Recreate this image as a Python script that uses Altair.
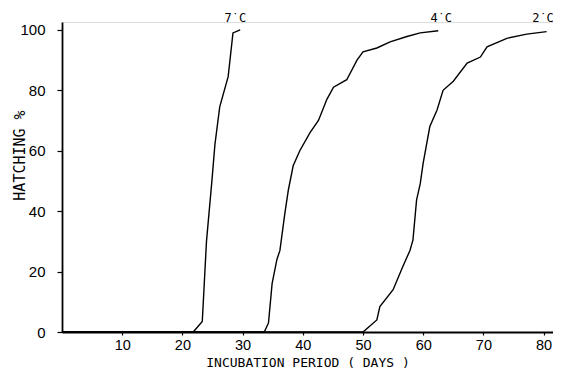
import altair as alt
import pandas as pd

# Series data
days_7 = [0, 21.8, 23.3, 24.0, 24.9, 25.4, 26.2, 27.6, 28.4, 29.6]
hatch_7 = [0, 0, 3.5, 30, 50, 62, 74.5, 84.5, 99, 100]

days_4 = [0, 33.6, 34.3, 34.9, 35.7, 36.2, 37.0, 37.6, 38.4, 39.5, 41.2, 42.6,
          44.0, 45.1, 47.3, 49.0, 50.0, 52.3, 54.5, 57.3, 59.5, 62.5]
hatch_4 = [0, 0, 3, 16, 24, 27, 39, 47, 55, 60, 66, 70,
           77, 81, 83.5, 90, 92.7, 94, 96, 97.8, 99, 99.7]

days_2 = [0, 50.0, 52.3, 52.8, 55.0, 56.6, 57.8, 58.3, 58.9, 59.5, 60.0, 61.1,
          62.3, 63.3, 65.0, 67.3, 69.5, 70.6, 73.9, 77.2, 80.5]
hatch_2 = [0, 0, 4, 8.4, 14, 21.6, 27, 30.5, 43.7, 49, 56, 68,
           73.5, 80, 83, 89, 91, 94.4, 97.2, 98.6, 99.4]

series_names = ["7˙C", "4˙C", "2˙C"]
label_x = [28.8, 63.0, 79.9]
label_y = [104.0, 104.0, 104.0]

x_ticks = [10, 20, 30, 40, 50, 60, 70, 80]
y_ticks = [0, 20, 40, 60, 80, 100]

rows = []
for name, dd, hh in zip(series_names, [days_7, days_4, days_2], [hatch_7, hatch_4, hatch_2]):
    for d, h in zip(dd, hh):
        rows.append({"series": name, "day": d, "hatch": h})
df = pd.DataFrame(rows)
labels = pd.DataFrame({"series": series_names, "day": label_x, "hatch": label_y})

tick_font = "Liberation Sans"
title_font = "DejaVu Sans Mono"

x_scale = alt.Scale(domain=[0, 81.56], nice=False, zero=False)
y_scale = alt.Scale(domain=[0, 102.6], nice=False)

lines = alt.Chart(df).mark_line(color="black", strokeWidth=1.4, clip=False).encode(
    x=alt.X("day:Q", scale=x_scale,
            axis=alt.Axis(title="INCUBATION PERIOD ( DAYS )", values=x_ticks, grid=False,
                          tickSize=3, labelPadding=3, domainWidth=1.8, tickWidth=1.2,
                          domainColor="black", tickColor="black", labelColor="black",
                          labelFont=tick_font, labelFontSize=14.5, labelFontWeight="normal",
                          titleFont=title_font, titleFontSize=13, titleFontWeight="normal",
                          titleColor="black", titleY=34, titleBaseline="alphabetic")),
    y=alt.Y("hatch:Q", scale=y_scale,
            axis=alt.Axis(title="HATCHING %", values=y_ticks, grid=False,
                          tickSize=5, labelPadding=12, domainWidth=1.8, tickWidth=1.2,
                          domainColor="black", tickColor="black", labelColor="black",
                          labelFont=tick_font, labelFontSize=15, labelFontWeight="normal",
                          titleFont=title_font, titleFontSize=15, titleFontWeight="normal",
                          titleColor="black", titleX=-43, titleY=133, titleBaseline="middle",
                          titleAngle=-90)),
    detail="series:N",
    order="day:Q",
)

text = alt.Chart(labels).mark_text(font=title_font, fontSize=12, color="black",
                                   baseline="middle", align="center", clip=False).encode(
    x=alt.X("day:Q", scale=x_scale),
    y=alt.Y("hatch:Q", scale=y_scale),
    text="series:N",
)

chart = (lines + text).properties(
    width=491, height=310,
    autosize=alt.AutoSizeParams(type="none"),
    padding={"left": 54, "top": 14, "right": 0, "bottom": 36},
).configure_view(stroke=None).configure(background="white")

chart.save("out.html", embed_options={"renderer": "svg", "actions": False})
